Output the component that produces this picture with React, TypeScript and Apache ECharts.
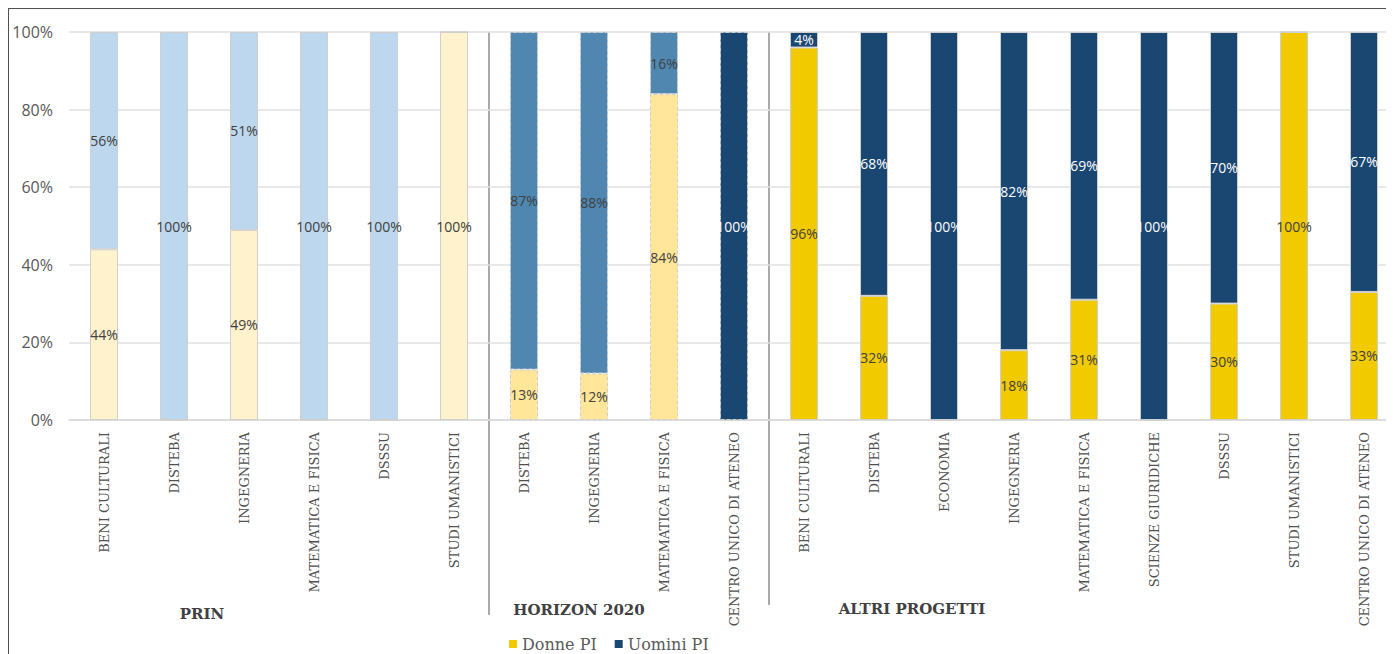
import React, { useEffect, useRef } from "react";
import * as echarts from "echarts";

// Departments, in display order, across the three funding programmes
const categories = [
  "BENI CULTURALI",
  "DISTEBA",
  "INGEGNERIA",
  "MATEMATICA E FISICA",
  "DSSSU",
  "STUDI UMANISTICI",
  "DISTEBA",
  "INGEGNERIA",
  "MATEMATICA E FISICA",
  "CENTRO UNICO DI ATENEO",
  "BENI CULTURALI",
  "DISTEBA",
  "ECONOMIA",
  "INGEGNERIA",
  "MATEMATICA E FISICA",
  "SCIENZE GIURIDICHE",
  "DSSSU",
  "STUDI UMANISTICI",
  "CENTRO UNICO DI ATENEO",
];

const groupNames = ["PRIN", "HORIZON 2020", "ALTRI PROGETTI"];
const groupSizes = [6, 4, 9];

// Share of principal investigators (%)
const donnePI = [44, 0, 49, 0, 0, 100, 13, 12, 84, 0, 96, 32, 0, 18, 31, 0, 30, 100, 33];
const uominiPI = [56, 100, 51, 100, 100, 0, 87, 88, 16, 100, 4, 68, 100, 82, 69, 100, 70, 0, 67];

const yTicks = [0, 20, 40, 60, 80, 100];

// Layout constants
const GRID_LEFT = 60;
const GRID_TOP = 23;
const CAT_W = 70;
const GRID_H = 388;

const NAVY = "#1A4672";
const GOLD = "#F2CA00";
const DARK_TEXT = "#404040";

const groupStyles = [
  { donne: "#FFF2CC", uomini: "#BDD7EE", uominiText: DARK_TEXT, borderType: "solid" },
  { donne: "#FFE699", uomini: "#4F87B0", uominiText: DARK_TEXT, borderType: "dashed" },
  { donne: GOLD, uomini: NAVY, uominiText: "#FFFFFF", borderType: "solid" },
];

function groupOf(index: number): number {
  let acc = 0;
  for (let g = 0; g < groupSizes.length; g++) {
    acc += groupSizes[g];
    if (index < acc) return g;
  }
  return groupSizes.length - 1;
}

function buildItems(values: number[], kind: "donne" | "uomini") {
  return values.map((v, i) => {
    const g = groupOf(i);
    const st = groupStyles[g];
    // the university-wide centre in Horizon 2020 uses the dark palette
    const dark = g === 1 && categories[i] === "CENTRO UNICO DI ATENEO";
    const color = kind === "donne" ? st.donne : dark ? NAVY : st.uomini;
    const textColor = kind === "donne" ? DARK_TEXT : dark ? "#FFFFFF" : st.uominiText;
    return {
      value: v,
      itemStyle: {
        color,
        borderColor: "#CFCFCF",
        borderWidth: 1,
        borderType: st.borderType,
      },
      label: { color: textColor },
    };
  });
}

export default function App() {
  const ref = useRef<HTMLDivElement>(null);

  useEffect(() => {
    if (!ref.current) return;
    const chart = echarts.init(ref.current, undefined, { renderer: "svg" });

    const sepIdx: number[] = [];
    let acc = 0;
    for (let g = 0; g < groupSizes.length - 1; g++) {
      acc += groupSizes[g];
      sepIdx.push(acc);
    }
    const sepBottoms = [606, 596];
    const groupLabelPos = [
      { x: 193, y: 605 },
      { x: 570, y: 601 },
      { x: 903, y: 600 },
    ];

    const labelCommon = {
      show: true,
      position: "inside" as const,
      fontFamily: "Open Sans",
      fontSize: 14,
      formatter: (p: any) => (p.value > 0 ? `${p.value}%` : ""),
    };

    chart.setOption({
      animation: false,
      grid: {
        left: GRID_LEFT,
        top: GRID_TOP,
        width: CAT_W * categories.length,
        height: GRID_H,
      },
      legend: {
        left: 500,
        top: 627,
        padding: 0,
        itemWidth: 8,
        itemHeight: 8,
        itemGap: 18,
        icon: "rect",
        textStyle: { fontFamily: "DejaVu Serif", fontSize: 16, color: "#595959" },
        data: [
          { name: "Donne PI", itemStyle: { color: GOLD, borderWidth: 0 } },
          { name: "Uomini PI", itemStyle: { color: NAVY, borderWidth: 0 } },
        ],
      },
      xAxis: {
        type: "category",
        data: categories.map((_, i) => `${i}`),
        axisTick: { show: false },
        axisLine: { lineStyle: { color: "#D9D9D9", width: 1.5 } },
        axisLabel: {
          rotate: 90,
          margin: 12,
          interval: 0,
          fontFamily: "DejaVu Serif",
          fontSize: 13,
          color: "#505050",
          formatter: (v: string) => categories[Number(v)],
        },
      },
      yAxis: {
        type: "value",
        min: yTicks[0],
        max: yTicks[yTicks.length - 1],
        interval: yTicks[1] - yTicks[0],
        axisLine: { show: false },
        axisTick: { show: false },
        splitLine: { lineStyle: { color: "#E0E0E0", width: 1.5 } },
        axisLabel: {
          margin: 16,
          fontFamily: "Open Sans",
          fontSize: 16,
          color: "#595959",
          formatter: "{value}%",
        },
      },
      series: [
        {
          name: "Donne PI",
          type: "bar",
          stack: "pi",
          barWidth: 28,
          label: labelCommon,
          data: buildItems(donnePI, "donne"),
        },
        {
          name: "Uomini PI",
          type: "bar",
          stack: "pi",
          barWidth: 28,
          label: labelCommon,
          data: buildItems(uominiPI, "uomini"),
        },
      ],
      graphic: [
        ...sepIdx.map((idx, k) => ({
          type: "line",
          shape: {
            x1: GRID_LEFT + idx * CAT_W,
            y1: GRID_TOP,
            x2: GRID_LEFT + idx * CAT_W,
            y2: sepBottoms[k],
          },
          style: { stroke: "#8C8C8C", lineWidth: 1.5 },
        })),
        ...groupNames.map((name, g) => ({
          type: "text",
          x: groupLabelPos[g].x,
          y: groupLabelPos[g].y,
          style: {
            text: name,
            fontFamily: "DejaVu Serif",
            fontWeight: "bold",
            fontSize: 15,
            fill: DARK_TEXT,
            textAlign: "center",
            textVerticalAlign: "middle",
          },
        })),
      ],
    });

    return () => chart.dispose();
  }, []);

  return (
    <div
      style={{
        width: 1386,
        height: 646,
        overflow: "hidden",
        borderTop: "1.5px solid #505050",
        borderLeft: "1.5px solid #505050",
        boxSizing: "border-box",
      }}
    >
      <div ref={ref} style={{ width: 1400, height: 645 }} />
    </div>
  );
}
